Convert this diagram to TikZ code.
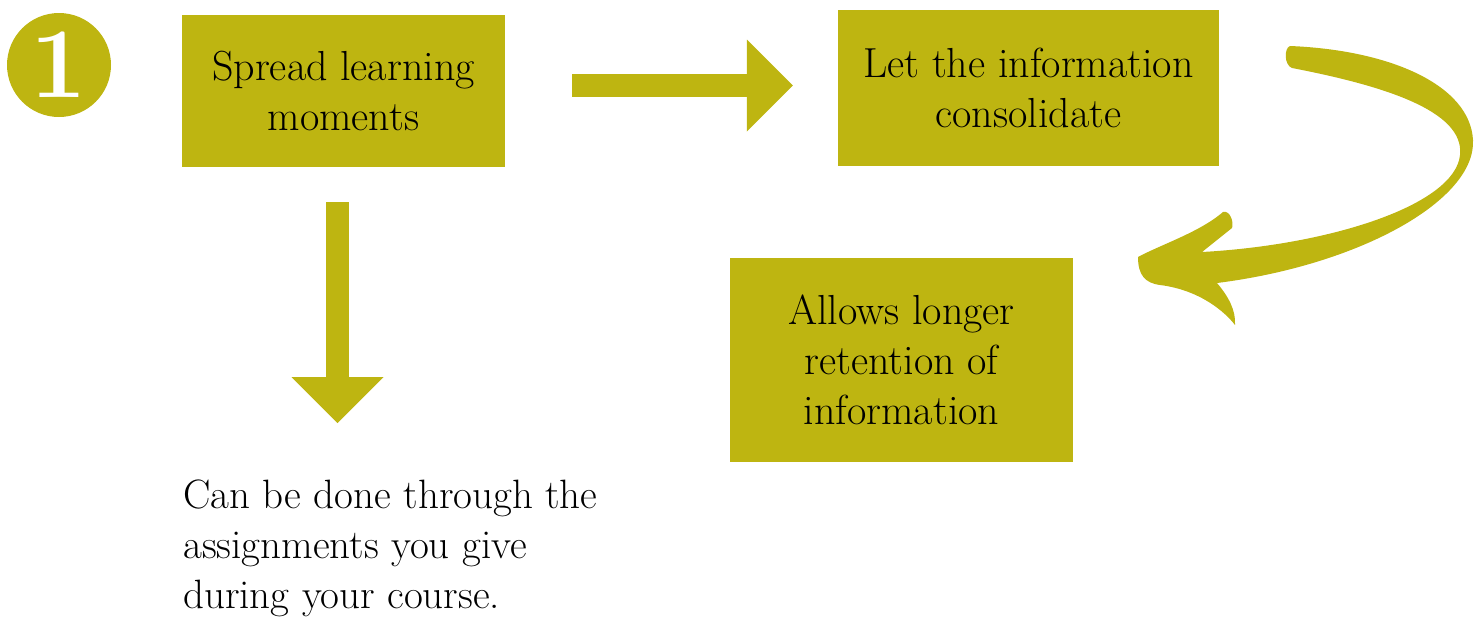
\documentclass[tikz,border=0pt]{standalone}
\usepackage{fontspec}
\usetikzlibrary{arrows.meta,calc}
\definecolor{mustard}{HTML}{BEB511}

\begin{document}
\begin{tikzpicture}[
  x=1pt,y=-1pt,
  box/.style={fill=mustard,inner sep=0pt,align=center,font=\fontsize{42}{50}\selectfont},
  note/.style={inner sep=0pt,align=left,font=\fontsize{41}{50}\selectfont},
  badge/.style={circle,fill=mustard,inner sep=0pt,minimum size=104pt,text=white,font=\fontsize{100}{100}\selectfont\bfseries},
  blockarrow/.style={draw=mustard,line width=23pt,-{Triangle[width=92pt,length=46pt,line width=0pt]}},
]
\useasboundingbox (0,0) rectangle (1484,625);

\node[badge] (num) at (59,65) {1};
\node[box,minimum width=323pt,minimum height=152pt] (spread) at (343.5,91) {Spread learning\\moments};
\node[box,minimum width=381pt,minimum height=156pt] (consol) at (1028.5,88) {Let the information\\consolidate};
\node[box,minimum width=343pt,minimum height=204pt] (allows) at (901.5,360) {Allows longer\\retention of\\information};
\node[note,anchor=north west] (course) at (183,480) {Can be done through the\\assignments you give\\during your course.};

\coordinate (ra) at ($(spread.east)+(67,-5.5)$);
\coordinate (rb) at ($(consol.west)+(-45,-2.5)$);
\draw[blockarrow] (ra) -- (rb);

\coordinate (da) at ($(spread.south)+(-6,35)$);
\coordinate (db) at ($(da)+(0,221)$);
\draw[blockarrow] (da) -- (db);

\fill[mustard] (1290,46) .. controls (1390,50) and (1470,85) .. (1473,140)
  .. controls (1476,200) and (1360,265) .. (1217,283)
  .. controls (1228,296) and (1236,310) .. (1235,325)
  .. controls (1225,312) and (1200,290) .. (1160,285)
  .. controls (1145,283) and (1138,275) .. (1138,257)
  .. controls (1160,245) and (1200,232) .. (1223,212)
  .. controls (1230,210) and (1234,222) .. (1232,228)
  -- (1202,252)
  .. controls (1330,245) and (1455,205) .. (1460,155)
  .. controls (1465,110) and (1380,85) .. (1292,68)
  .. controls (1284,65) and (1284,48) .. cycle;

\end{tikzpicture}
\end{document}
